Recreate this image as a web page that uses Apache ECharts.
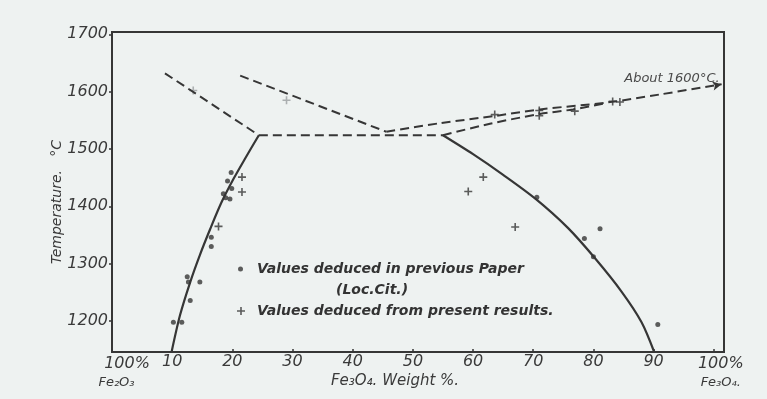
<!DOCTYPE html>
<html>
<head>
<meta charset="utf-8">
<script src="https://cdn.jsdelivr.net/npm/echarts@6/dist/echarts.min.js"></script>
<style>
  html, body { margin: 0; padding: 0; background: #eef2f1; }
  #chart { width: 767px; height: 399px; }
</style>
</head>
<body>
<div id="chart"></div>
<script>
// Fe2O3 – Fe3O4 system: temperature (°C) against Fe3O4 weight %
const xTicks = [0, 10, 20, 30, 40, 50, 60, 70, 80, 90, 100];
const yTicks = [1200, 1300, 1400, 1500, 1600, 1700];

// solid liquidus curves
const liquidusLeft = [
  [9.9, 1146], [11.3, 1210], [13.0, 1268], [14.6, 1315], [16.3, 1360],
  [18.2, 1407], [20.2, 1448], [22.1, 1483], [24.4, 1524]
];
const liquidusRight = [
  [55.0, 1524], [60.0, 1491], [65.0, 1455], [70.4, 1413], [75.8, 1362],
  [80.3, 1309], [84.7, 1251], [88.0, 1198], [90.1, 1146]
];

// dashed (uncertain) boundaries
const dashLeft = [[8.8, 1632], [24.4, 1524]];
const dashMid = [[21.3, 1628], [45.6, 1530]];
const dashFlat = [[24.4, 1524], [55, 1524]];
const dashUpper = [[45.6, 1530], [54.5, 1545], [63.9, 1558], [71.1, 1569], [82.2, 1581], [91, 1595], [101.3, 1613]];
const dashLower = [[55, 1524], [62.8, 1544], [71.1, 1561], [76.6, 1569], [82.2, 1580]];

// values deduced in previous paper
const previousValues = [
  [19.8, 1459], [19.2, 1444], [19.9, 1431], [18.5, 1422], [18.9, 1415], [19.6, 1413],
  [16.5, 1346], [16.5, 1330], [12.5, 1277], [12.7, 1268], [14.6, 1268], [13.0, 1236],
  [10.2, 1198], [11.6, 1198],
  [70.6, 1416], [78.5, 1344], [81.1, 1361], [80.0, 1312], [90.7, 1194]
];

// values deduced from present results
const presentValues = [
  [21.6, 1451], [21.6, 1425], [17.7, 1365],
  [61.7, 1451], [59.2, 1426], [67.0, 1364],
  [63.6, 1560], [71.0, 1567], [71.0, 1558], [76.9, 1566], [83.2, 1583], [84.4, 1582]
];
const presentFaint = [[13.5, 1602], [29.0, 1585]];

const ink = '#363636';
const textInk = '#3a3a3a';
const font = 'DejaVu Sans';
const plusPath = 'path://M4,0H6V4H10V6H6V10H4V6H0V4H4Z';
const PREV = 'Values deduced in previous Paper';
const PRES = 'Values deduced from present results.';

const dashedStyle = { color: ink, width: 2, type: [9, 5] };

function dashed(data, extra) {
  return Object.assign({
    type: 'line', data: data, symbol: 'none', silent: true,
    lineStyle: dashedStyle, z: 3
  }, extra || {});
}

function solid(data) {
  return {
    type: 'line', data: data, smooth: 0.3,
    symbol: 'none', silent: true, lineStyle: { color: ink, width: 2.2 }, z: 4
  };
}

const upperData = dashUpper.map((p, i) => i === dashUpper.length - 1
  ? { value: p, symbol: 'arrow', symbolSize: [7, 9], symbolRotate: -78 }
  : { value: p });

const legendText = {
  fontFamily: font, fontStyle: 'italic', fontWeight: 'bold', fontSize: 14, color: '#333333'
};

const chart = echarts.init(document.getElementById('chart'), null, { renderer: 'canvas' });
chart.setOption({
  backgroundColor: '#eef2f1',
  animation: false,
  grid: {
    left: 112, right: 43, top: 32, bottom: 47,
    outerBoundsMode: 'none', containLabel: false,
    show: true, borderColor: ink, borderWidth: 2, backgroundColor: 'transparent'
  },
  legend: [
    {
      data: [PREV],
      left: 238, top: 241, padding: 0,
      itemWidth: 5, itemHeight: 5, selectedMode: false,
      textStyle: {
        rich: {
          e: Object.assign({ lineHeight: 21 }, legendText),
          a: Object.assign({ lineHeight: 21, padding: [0, 0, 0, 9] }, legendText),
          b: Object.assign({ lineHeight: 21, padding: [0, 0, 0, 88] }, legendText)
        }
      },
      formatter: function (name) {
        return '{e| }\n{a|' + name + '}\n{b|(Loc.Cit.)}';
      }
    },
    {
      data: [PRES],
      left: 237, top: 304, padding: 0,
      itemWidth: 8, itemHeight: 8, selectedMode: false,
      textStyle: {
        rich: { a: Object.assign({ lineHeight: 21, padding: [0, 0, 0, 7] }, legendText) }
      },
      formatter: function (name) { return '{a|' + name + '}'; }
    }
  ],
  xAxis: {
    type: 'value', min: 0, max: 101.7,
    name: 'Fe₃O₄. Weight %.',
    nameLocation: 'middle', nameGap: 22, nameMoveOverlap: false,
    nameTextStyle: {
      fontFamily: font, fontStyle: 'italic', fontSize: 15, color: textInk,
      padding: [0, 46, 0, 0]
    },
    axisLine: { show: true, lineStyle: { color: ink, width: 2 } },
    splitLine: { show: false },
    axisTick: { show: true, inside: true, length: 3, customValues: xTicks, lineStyle: { color: ink, width: 1.5 } },
    axisLabel: {
      customValues: xTicks, margin: 2,
      fontFamily: font, fontStyle: 'italic', fontSize: 16, color: textInk,
      formatter: function (v) {
        if (v === 0) return '{p|100%}\n{f|Fe₂O₃}';
        if (v === 100) return '{q|100%}\n{g|Fe₃O₄.}';
        return String(v);
      },
      rich: {
        p: { fontFamily: font, fontStyle: 'italic', fontSize: 16, color: textInk, padding: [0, 0, 0, 30], lineHeight: 19 },
        f: { fontFamily: font, fontStyle: 'italic', fontSize: 13, color: textInk, lineHeight: 19, padding: [0, 0, 0, 9] },
        q: { fontFamily: font, fontStyle: 'italic', fontSize: 16, color: textInk, padding: [0, 0, 0, 14], lineHeight: 19 },
        g: { fontFamily: font, fontStyle: 'italic', fontSize: 13, color: textInk, lineHeight: 19, padding: [0, 0, 0, 14] }
      }
    }
  },
  yAxis: {
    type: 'value', min: 1146, max: 1704,
    name: 'Temperature.   °C',
    nameLocation: 'middle', nameRotate: 90, nameGap: 48, nameMoveOverlap: false,
    nameTextStyle: {
      fontFamily: font, fontStyle: 'italic', fontSize: 14, color: textInk,
      padding: [0, 20, 0, 0]
    },
    axisLine: { show: true, lineStyle: { color: ink, width: 2 } },
    splitLine: { show: false },
    axisTick: { show: true, length: 3, customValues: yTicks, lineStyle: { color: ink, width: 1.5 } },
    axisLabel: {
      customValues: yTicks, margin: 4,
      fontFamily: font, fontStyle: 'italic', fontSize: 16, color: textInk,
      formatter: function (v) { return String(v); }
    }
  },
  series: [
    solid(liquidusLeft),
    solid(liquidusRight),
    dashed(dashLeft),
    dashed(dashMid),
    dashed(dashFlat),
    dashed(upperData, {
      smooth: 0.3, symbol: 'none', showSymbol: true,
      itemStyle: { color: ink },
      endLabel: {
        show: true, formatter: 'About 1600°C.',
        align: 'right', offset: [-10, -6],
        fontFamily: font, fontStyle: 'italic', fontSize: 13, color: '#4a4a4a'
      }
    }),
    dashed(dashLower, { smooth: 0.3 }),
    {
      name: PREV, type: 'scatter', data: previousValues,
      symbol: 'circle', symbolSize: 5, itemStyle: { color: ink }, z: 5
    },
    {
      name: PRES, type: 'scatter', data: presentValues,
      symbol: plusPath, symbolSize: 8, itemStyle: { color: ink }, z: 5
    },
    {
      type: 'scatter', data: presentFaint,
      symbol: plusPath, symbolSize: 8, itemStyle: { color: '#9a9ea0' }, z: 2
    }
  ]
});
</script>
</body>
</html>
